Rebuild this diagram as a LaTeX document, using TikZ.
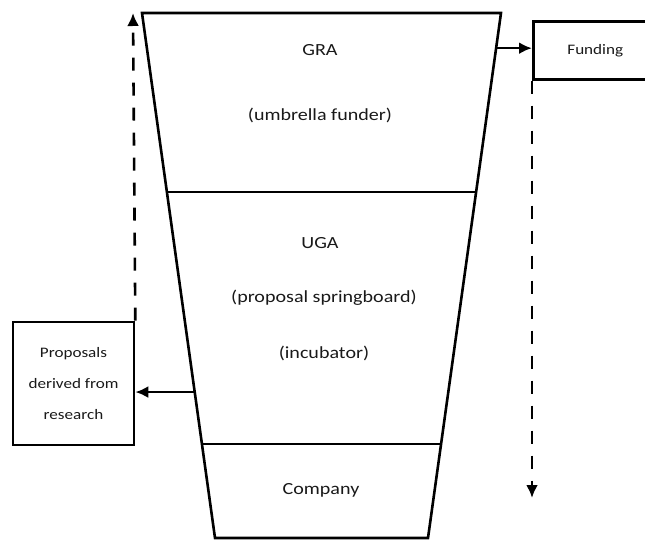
\documentclass[tikz,border=0pt]{standalone}
\usepackage{fontspec}
\setmainfont{Carlito}[FakeStretch=1.18]
\usepackage{tikz}
\usetikzlibrary{arrows.meta, positioning, calc}

\begin{document}
\begin{tikzpicture}[
  x=1pt, y=-1pt,
  label/.style={text=black!90, font=\fontsize{17}{20}\selectfont},
  box/.style={draw, line width=2.6pt, align=center, text=black!90, font=\fontsize{14.5}{31}\selectfont},
  arrow/.style={->, line width=2.6pt, >={Latex[length=13pt, width=12pt]}},
  flow/.style={arrow, dash pattern=on 13pt off 12pt}
]
\clip (0,0) rectangle (645,540);

% funnel corners
\coordinate (tl) at (142, 13);
\coordinate (tr) at (501, 13);
\coordinate (bl) at (215, 538);
\coordinate (br) at (428, 538);
\draw[line width=2.6pt] (tl) -- (tr) -- (br) -- (bl) -- cycle;
\draw[line width=2.6pt] ($(tl)!0.341!(bl)$) -- ($(tr)!0.341!(br)$);
\draw[line width=2.6pt] ($(tl)!0.821!(bl)$) -- ($(tr)!0.821!(br)$);

\node[label] (gra) at (320, 50) {GRA};
\node[label] (umbrella) at (320, 115) {(umbrella funder)};
\node[label] (uga) at (320, 243) {UGA};
\node[label] (spring) at (324, 298) {(proposal springboard)};
\node[label] (incub) at (324, 353) {(incubator)};
\node[label] (company) at (321, 490) {Company};

\node[box, minimum width=121pt, minimum height=123pt] (props) at (73.5, 383.5) {Proposals\\derived from\\research};
\node[box, minimum width=124pt, minimum height=58pt, anchor=north west] (fund) at (532, 20) {Funding};

\coordinate (fromuga) at ($(tl)!0.722!(bl)$);
\coordinate (fromgra) at ($(tr)!0.067!(br)$);
\coordinate (uptip) at (133, 13);
\coordinate (downtip) at (532, 498);

\draw[arrow] (fromuga) -- (props.east |- fromuga);
\draw[arrow] (fromgra) -- (fund.west |- fromgra);
\draw[flow] (props.north east) -- (uptip);
\draw[flow] (fund.south west) -- (downtip);

\end{tikzpicture}
\end{document}
